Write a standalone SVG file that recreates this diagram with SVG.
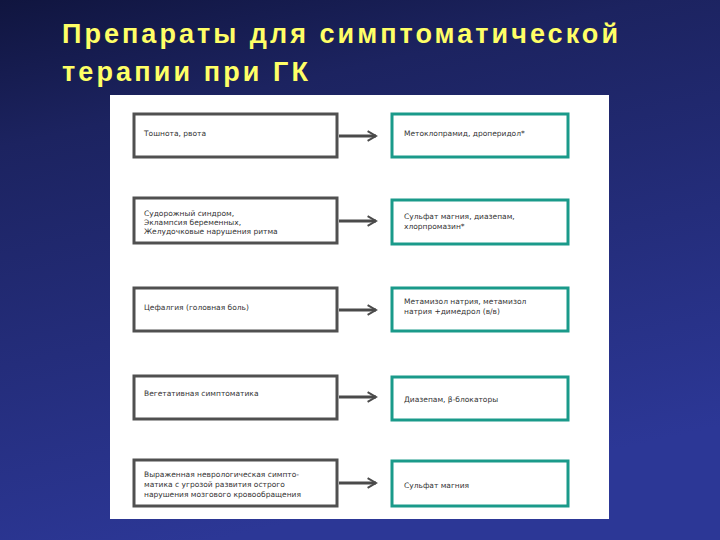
<svg xmlns="http://www.w3.org/2000/svg" width="720" height="540" viewBox="0 0 720 540">
<defs>
<linearGradient id="bg" x1="0" y1="0" x2="0.3" y2="1">
<stop offset="0" stop-color="#10153f"/><stop offset="0.25" stop-color="#1c2360"/><stop offset="1" stop-color="#2c3796"/>
</linearGradient>
<marker id="ah" viewBox="0 0 10 10" refX="8" refY="5" markerWidth="4" markerHeight="4" orient="auto" markerUnits="strokeWidth">
<path d="M1,1 L8,5 L1,9" fill="none" stroke="#4a4a4a" stroke-width="1.6"/>
</marker>
<style>
.t{font-family:"Liberation Sans",Arial,sans-serif;font-weight:bold;font-size:27px;fill:#ffff66}
.l{fill:#fff;stroke:#505050;stroke-width:3}
.r{fill:#fff;stroke:#1a9a8a;stroke-width:3}
.s{font-family:"DejaVu Sans",sans-serif;font-size:7.5px;fill:#333}
.c{stroke:#4a4a4a;stroke-width:3;fill:none;marker-end:url(#ah)}
</style>
</defs>
<rect width="720" height="540" fill="url(#bg)"/>
<text class="t" x="62" y="43" textLength="556" lengthAdjust="spacing">Препараты для симптоматической</text>
<text class="t" x="62" y="81" textLength="246" lengthAdjust="spacing">терапии при ГК</text>
<rect x="110" y="95" width="499" height="424" fill="#fff"/>
<g id="n1"><rect class="l" x="134" y="114" width="203" height="43"/><text class="s" x="144" y="136">Тошнота, рвота</text></g>
<g id="n2"><rect class="l" x="134" y="198" width="203" height="45"/><text class="s" x="144" y="216">Судорожный синдром,</text><text class="s" x="144" y="225">Эклампсия беременных,</text><text class="s" x="144" y="234">Желудочковые нарушения ритма</text></g>
<g id="n3"><rect class="l" x="134" y="288" width="203" height="43"/><text class="s" x="144" y="310">Цефалгия (головная боль)</text></g>
<g id="n4"><rect class="l" x="134" y="376" width="203" height="43"/><text class="s" x="144" y="396">Вегетативная симптоматика</text></g>
<g id="n5"><rect class="l" x="134" y="460" width="203" height="46"/><text class="s" x="144" y="477">Выраженная неврологическая симпто-</text><text class="s" x="144" y="487">матика с угрозой развития острого</text><text class="s" x="144" y="497">нарушения мозгового кровообращения</text></g>
<g id="m1"><rect class="r" x="392" y="114" width="176" height="43"/><text class="s" x="404" y="136">Метоклопрамид, дроперидол*</text></g>
<g id="m2"><rect class="r" x="392" y="200" width="176" height="44"/><text class="s" x="404" y="219">Сульфат магния, диазепам,</text><text class="s" x="404" y="229">хлорпромазин*</text></g>
<g id="m3"><rect class="r" x="392" y="288" width="176" height="43"/><text class="s" x="404" y="304">Метамизол натрия, метамизол</text><text class="s" x="404" y="314">натрия +димедрол (в/в)</text></g>
<g id="m4"><rect class="r" x="392" y="377" width="176" height="43"/><text class="s" x="404" y="402">Диазепам, β-блокаторы</text></g>
<g id="m5"><rect class="r" x="392" y="461" width="176" height="45"/><text class="s" x="404" y="488">Сульфат магния</text></g>
<g id="connectors">
<line class="c" x1="339" y1="136" x2="376" y2="136"/>
<line class="c" x1="339" y1="221" x2="376" y2="221"/>
<line class="c" x1="339" y1="310" x2="376" y2="310"/>
<line class="c" x1="339" y1="397" x2="376" y2="397"/>
<line class="c" x1="339" y1="483" x2="376" y2="483"/>
</g>
</svg>
